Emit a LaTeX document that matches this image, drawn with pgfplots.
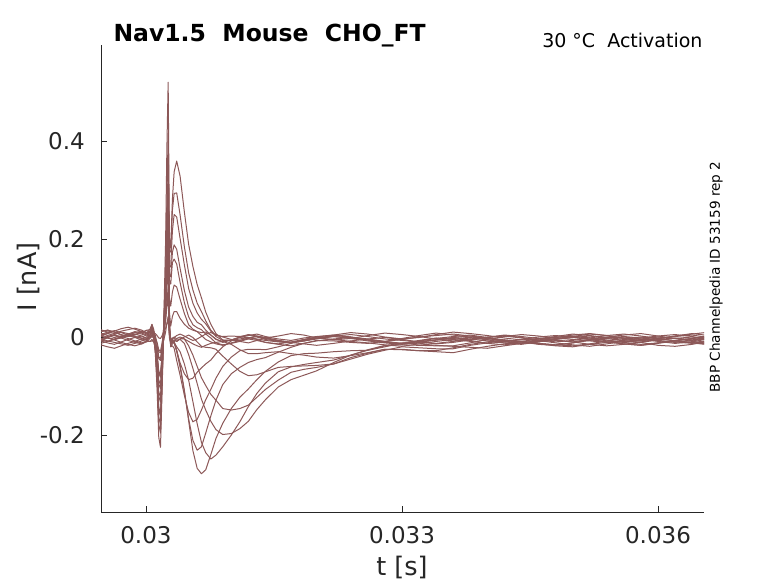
\documentclass[border=0pt]{standalone}
\usepackage{fontspec}
\setmainfont{DejaVu Sans}
\usepackage{pgfplots}
\usepackage{pgfplotstable}
\pgfplotsset{compat=1.18}
\definecolor{tr}{RGB}{140,88,88}
\definecolor{ax}{RGB}{38,38,38}
\pgfplotstableread{
trace r1 r2 r3 r4 r5 r6 r7 r8 r9 r10 r11 r12 r13 r14 r15 r16 r17 r18 r19 r20 r21 r22 r23 r24 r25 r26 r27 r28 r29 r30 r31 r32 r33 r34 r35 r36 r37 r38 r39 r40 r41 r42 r43 r44 r45 r46 r47 r48 r49 r50 r51 r52 r53 r54 r55 r56 r57 r58 r59 r60 r61 r62 r63 r64 r65 r66 r67
t 0.02947 0.02955 0.02963 0.02971 0.02979 0.02987 0.02995 0.03001 0.03005 0.03007 0.03009 0.03011 0.03013 0.03015 0.03017 0.03019 0.03021 0.03023 0.030245 0.03026 0.030275 0.03029 0.03031 0.03033 0.03036 0.0304 0.03045 0.0305 0.03055 0.0306 0.03065 0.0307 0.03076 0.03082 0.0309 0.031 0.0311 0.0312 0.0313 0.0314 0.03155 0.0317 0.03185 0.032 0.0322 0.0324 0.0326 0.0328 0.033 0.0332 0.0334 0.0336 0.0338 0.034 0.0342 0.0344 0.0346 0.0348 0.035 0.0352 0.0354 0.0356 0.0358 0.036 0.0362 0.0364 0.03655
c0 0.011 0.014 0.010 0.004 0.001 0.005 0.010 0.013 0.009 0.009 0.008 0.007 0.003 -0.002 -0.003 0.003 0.011 0.018 0.027 0.034 0.003 -0.003 -0.002 -0.001 0.003 0.006 0.002 -0.003 -0.007 -0.004 0.001 0.006 0.009 0.005 0.000 -0.005 -0.009 -0.012 -0.007 -0.002 0.002 0.007 0.004 -0.002 -0.006 -0.003 0.003 0.008 0.005 0.001 -0.004 -0.008 -0.005 -0.001 0.004 0.001 -0.003 -0.007 -0.010 -0.005 0.000 0.004 0.007 0.002 -0.003 -0.006 -0.001
c1 -0.005 -0.002 -0.006 -0.011 -0.015 -0.018 -0.014 -0.009 -0.009 -0.008 -0.009 -0.013 -0.020 -0.030 -0.032 -0.020 -0.005 0.010 0.028 0.042 -0.002 -0.013 -0.011 -0.010 -0.003 0.000 -0.004 -0.009 -0.014 -0.018 -0.021 -0.017 -0.013 -0.011 -0.009 -0.015 -0.026 -0.034 -0.034 -0.032 -0.030 -0.034 -0.037 -0.041 -0.043 -0.038 -0.032 -0.025 -0.026 -0.028 -0.030 -0.032 -0.025 -0.019 -0.014 -0.010 -0.014 -0.018 -0.020 -0.015 -0.011 -0.008 -0.011 -0.017 -0.019 -0.015 -0.010
c2 0.005 0.010 0.013 0.009 0.004 0.001 -0.002 -0.005 0.006 0.008 0.005 -0.001 -0.011 -0.026 -0.029 -0.011 0.012 0.034 0.061 0.082 0.009 -0.008 -0.005 -0.003 -0.009 -0.004 0.000 0.004 -0.001 -0.010 -0.019 -0.021 -0.022 -0.025 -0.039 -0.055 -0.070 -0.079 -0.077 -0.071 -0.062 -0.060 -0.059 -0.058 -0.055 -0.045 -0.035 -0.027 -0.020 -0.022 -0.024 -0.024 -0.017 -0.012 -0.007 -0.010 -0.015 -0.017 -0.012 -0.006 -0.002 0.001 -0.002 -0.007 -0.010 -0.013 -0.009
c3 -0.013 -0.009 -0.004 0.000 0.003 -0.001 -0.006 -0.010 -0.002 0.001 -0.002 -0.010 -0.024 -0.044 -0.048 -0.024 0.006 0.036 0.072 0.100 0.009 -0.013 -0.009 -0.007 -0.009 -0.004 -0.004 -0.018 -0.037 -0.060 -0.083 -0.099 -0.117 -0.129 -0.146 -0.149 -0.146 -0.139 -0.123 -0.107 -0.088 -0.072 -0.066 -0.062 -0.055 -0.042 -0.033 -0.025 -0.025 -0.028 -0.028 -0.022 -0.015 -0.010 -0.006 -0.009 -0.013 -0.016 -0.018 -0.014 -0.008 -0.003 0.000 -0.003 -0.008 -0.011 -0.014
c4 0.004 0.007 0.012 0.017 0.020 0.016 0.011 0.006 0.013 0.016 0.012 0.003 -0.015 -0.040 -0.045 -0.015 0.023 0.060 0.105 0.140 0.020 -0.008 -0.003 0.000 -0.004 -0.005 -0.013 -0.036 -0.064 -0.095 -0.127 -0.149 -0.172 -0.189 -0.199 -0.197 -0.187 -0.172 -0.148 -0.128 -0.102 -0.087 -0.078 -0.069 -0.052 -0.037 -0.026 -0.017 -0.016 -0.017 -0.018 -0.018 -0.012 -0.005 0.001 0.005 0.002 -0.002 -0.005 -0.008 -0.011 -0.007 -0.002 0.002 0.005 0.001 -0.004
c5 -0.016 -0.020 -0.023 -0.018 -0.013 -0.009 -0.004 -0.007 -0.009 -0.005 -0.010 -0.021 -0.042 -0.072 -0.078 -0.042 0.003 0.048 0.102 0.144 0.013 -0.020 -0.014 -0.011 -0.020 -0.030 -0.055 -0.088 -0.132 -0.177 -0.215 -0.236 -0.249 -0.241 -0.224 -0.200 -0.173 -0.142 -0.115 -0.094 -0.071 -0.061 -0.056 -0.052 -0.047 -0.037 -0.027 -0.018 -0.012 -0.014 -0.017 -0.019 -0.021 -0.023 -0.018 -0.013 -0.009 -0.006 -0.010 -0.015 -0.018 -0.015 -0.010 -0.005 -0.002 -0.006 -0.011
c6 0.005 -0.001 -0.005 -0.002 0.004 0.009 0.006 0.002 0.004 0.009 0.003 -0.011 -0.035 -0.070 -0.077 -0.035 0.016 0.064 0.122 0.166 0.021 -0.015 -0.009 -0.011 -0.027 -0.057 -0.109 -0.171 -0.232 -0.268 -0.279 -0.271 -0.240 -0.207 -0.176 -0.146 -0.123 -0.106 -0.087 -0.070 -0.051 -0.038 -0.034 -0.033 -0.030 -0.028 -0.027 -0.020 -0.013 -0.007 -0.002 -0.005 -0.009 -0.013 -0.010 -0.005 0.000 0.003 0.000 -0.005 -0.010 -0.014 -0.017 -0.012 -0.007 -0.003 0.002
c7 0.008 0.003 -0.001 0.002 0.006 0.011 0.008 0.004 0.010 0.016 0.009 -0.006 -0.034 -0.074 -0.082 -0.034 0.023 0.074 0.135 0.183 0.025 -0.012 -0.008 -0.012 -0.029 -0.062 -0.111 -0.167 -0.211 -0.231 -0.224 -0.196 -0.161 -0.129 -0.097 -0.075 -0.062 -0.052 -0.046 -0.042 -0.031 -0.021 -0.013 -0.007 -0.008 -0.011 -0.013 -0.009 -0.003 0.003 0.008 0.004 -0.001 -0.006 -0.010 -0.013 -0.008 -0.003 0.001 0.006 0.003 -0.003 -0.007 -0.004 0.002 0.007 0.004
c8 -0.008 -0.012 -0.015 -0.010 -0.005 -0.001 0.002 -0.003 -0.002 0.005 -0.002 -0.020 -0.051 -0.096 -0.105 -0.051 0.012 0.066 0.131 0.181 0.021 -0.020 -0.018 -0.023 -0.048 -0.078 -0.119 -0.154 -0.173 -0.168 -0.149 -0.128 -0.107 -0.084 -0.060 -0.041 -0.028 -0.025 -0.025 -0.026 -0.020 -0.013 -0.006 -0.002 -0.005 -0.009 -0.012 -0.016 -0.019 -0.014 -0.009 -0.005 0.000 -0.003 -0.009 -0.013 -0.010 -0.004 0.001 -0.002 -0.006 -0.011 -0.015 -0.012 -0.008 -0.003 -0.006
c9 0.015 0.010 0.007 0.012 0.015 0.018 0.014 0.008 0.017 0.025 0.016 -0.003 -0.038 -0.088 -0.098 -0.038 0.031 0.088 0.156 0.210 0.031 -0.010 -0.007 -0.009 -0.028 -0.053 -0.075 -0.087 -0.084 -0.072 -0.063 -0.055 -0.047 -0.034 -0.020 -0.008 0.000 -0.001 -0.004 -0.007 -0.010 -0.012 -0.005 0.000 0.004 0.009 0.006 0.000 -0.004 -0.001 0.005 0.010 0.007 0.003 -0.002 -0.006 -0.003 0.001 0.006 0.003 -0.001 -0.005 -0.008 -0.003 0.002 0.006 0.009
c10 -0.006 -0.009 -0.005 0.000 0.003 0.006 0.002 -0.003 0.004 0.012 0.002 -0.019 -0.057 -0.112 -0.123 -0.057 0.018 0.078 0.150 0.216 0.051 0.022 0.042 0.052 0.052 0.038 0.026 0.018 0.014 0.011 0.003 -0.005 -0.010 -0.014 -0.017 -0.012 -0.007 -0.003 0.002 -0.001 -0.007 -0.011 -0.008 -0.002 0.003 0.000 -0.004 -0.009 -0.013 -0.010 -0.006 -0.001 -0.004 -0.008 -0.012 -0.015 -0.010 -0.005 -0.001 0.002 -0.003 -0.008 -0.011 -0.006 -0.003 0.000 -0.004
c11 0.002 -0.002 -0.005 -0.001 0.004 0.009 0.012 0.008 0.009 0.019 0.008 -0.016 -0.059 -0.121 -0.133 -0.059 0.024 0.087 0.163 0.241 0.080 0.063 0.092 0.106 0.102 0.077 0.048 0.025 0.016 0.011 0.009 0.010 0.004 -0.005 -0.009 -0.006 0.000 0.005 0.002 -0.002 -0.007 -0.011 -0.008 -0.004 0.001 -0.002 -0.006 -0.010 -0.013 -0.008 -0.003 0.001 0.004 -0.001 -0.006 -0.009 -0.004 -0.001 0.002 -0.002 -0.008 -0.011 -0.007 -0.002 0.001 0.004 0.000
c12 -0.003 -0.008 -0.011 -0.014 -0.017 -0.013 -0.008 -0.004 -0.001 0.010 -0.002 -0.029 -0.078 -0.148 -0.162 -0.078 0.015 0.082 0.173 0.266 0.117 0.108 0.152 0.159 0.149 0.111 0.070 0.041 0.025 0.019 0.015 0.006 -0.002 -0.012 -0.016 -0.013 -0.009 -0.004 -0.007 -0.011 -0.015 -0.018 -0.013 -0.008 -0.004 -0.001 -0.006 -0.011 -0.014 -0.009 -0.006 -0.003 -0.007 -0.013 -0.016 -0.012 -0.007 -0.004 -0.001 -0.005 -0.010 -0.014 -0.017 -0.013 -0.008 -0.003 0.000
c13 0.011 0.014 0.010 0.005 0.001 0.004 0.009 0.014 0.015 0.026 0.013 -0.016 -0.068 -0.143 -0.158 -0.068 0.032 0.107 0.207 0.307 0.128 0.123 0.173 0.188 0.179 0.140 0.095 0.061 0.042 0.030 0.025 0.014 0.004 -0.004 -0.011 -0.006 -0.001 0.003 0.006 0.001 -0.004 -0.007 -0.002 0.001 0.004 0.000 -0.006 -0.009 -0.005 0.000 0.003 0.006 0.002 -0.003 -0.007 -0.010 -0.006 -0.001 0.004 0.007 0.003 -0.002 -0.005 -0.008 -0.011 -0.007 -0.002
c14 0.004 0.007 0.003 -0.002 -0.007 -0.011 -0.014 -0.009 0.005 0.017 0.003 -0.027 -0.083 -0.163 -0.179 -0.083 0.027 0.117 0.235 0.349 0.141 0.145 0.217 0.250 0.245 0.201 0.147 0.099 0.069 0.049 0.036 0.027 0.012 0.001 -0.007 -0.007 -0.004 -0.001 -0.005 -0.011 -0.014 -0.010 -0.005 -0.002 0.001 -0.003 -0.008 -0.012 -0.015 -0.011 -0.006 -0.001 0.002 -0.002 -0.007 -0.010 -0.013 -0.016 -0.012 -0.007 -0.003 0.000 -0.004 -0.009 -0.013 -0.010 -0.005
c15 -0.004 0.001 0.005 0.010 0.007 0.001 -0.003 0.000 0.011 0.025 0.009 -0.025 -0.088 -0.178 -0.196 -0.088 0.037 0.142 0.278 0.416 0.172 0.175 0.259 0.293 0.294 0.249 0.184 0.131 0.096 0.069 0.052 0.033 0.014 0.003 0.001 0.002 0.001 0.004 0.000 -0.005 -0.009 -0.012 -0.008 -0.003 0.002 0.005 0.001 -0.004 -0.007 -0.010 -0.013 -0.009 -0.004 0.000 0.003 -0.001 -0.006 -0.010 -0.007 -0.002 0.003 0.006 0.002 -0.003 -0.008 -0.012 -0.015
c16 -0.007 -0.001 0.004 0.001 -0.003 -0.008 -0.012 -0.009 0.005 0.020 0.003 -0.035 -0.105 -0.205 -0.225 -0.105 0.045 0.195 0.385 0.520 0.202 0.182 0.282 0.337 0.359 0.328 0.255 0.189 0.144 0.107 0.080 0.051 0.026 0.007 -0.006 -0.007 -0.007 -0.002 0.001 -0.003 -0.008 -0.011 -0.014 -0.017 -0.013 -0.008 -0.004 -0.001 -0.005 -0.010 -0.014 -0.011 -0.006 -0.001 0.002 -0.002 -0.007 -0.012 -0.016 -0.019 -0.014 -0.009 -0.005 0.000 -0.003 -0.009 -0.013
}\raw
\pgfplotstabletranspose[colnames from=trace]{\data}{\raw}
\begin{document}
\begin{tikzpicture}
\path[use as bounding box] (0,0) rectangle (778pt,583pt);
\begin{axis}[
  at={(101pt,71pt)}, anchor=south west,
  scale only axis, width=603pt, height=467pt,
  xmin=0.029473, xmax=0.036539, ymin=-0.3571, ymax=0.5959,
  axis lines=left,
  axis line style={-, draw=ax, line width=0.6pt},
  tick align=inside, major tick length=6pt,
  tick style={draw=ax, line width=0.6pt},
  xtick={0.03,0.033,0.036}, xticklabels={0.03,0.033,0.036},
  ytick={-0.2,0,0.2,0.4}, yticklabels={-0.2,0,0.2,0.4},
  scaled x ticks=false, scaled y ticks=false,
  /pgf/number format/assume math mode=true,
  ticklabel style={font=\fontsize{23}{26}\selectfont, text=ax},
  xticklabel style={anchor=north, inner sep=0pt, yshift=-14pt},
  yticklabel style={anchor=east, inner sep=0pt, xshift=-16pt},
  clip mode=individual,
]
\pgfplotsinvokeforeach{0,...,16}{
  \addplot[tr, line width=1pt, line join=round] table[x=t, y=c#1] {\data};
}
\end{axis}
\node[anchor=base west, font=\fontsize{23.5}{26}\selectfont\bfseries, text=black] at (110pt,541pt) {Nav1.5\ \ Mouse\ \ CHO\_FT};
\node[anchor=base east, font=\fontsize{19}{22}\selectfont, text=black] at (706pt,535pt) {30 °C\ \ Activation};
\node[rotate=90, anchor=center, font=\fontsize{13.6}{15}\selectfont, text=black] at (716pt,306pt) {BBP Channelpedia ID 53159 rep 2};
\node[anchor=center, font=\fontsize{25.5}{28}\selectfont, text=ax] at (402pt,16pt) {t [s]};
\node[rotate=90, anchor=center, font=\fontsize{25.5}{28}\selectfont, text=ax] at (28pt,306pt) {I [nA]};
\end{tikzpicture}
\end{document}
